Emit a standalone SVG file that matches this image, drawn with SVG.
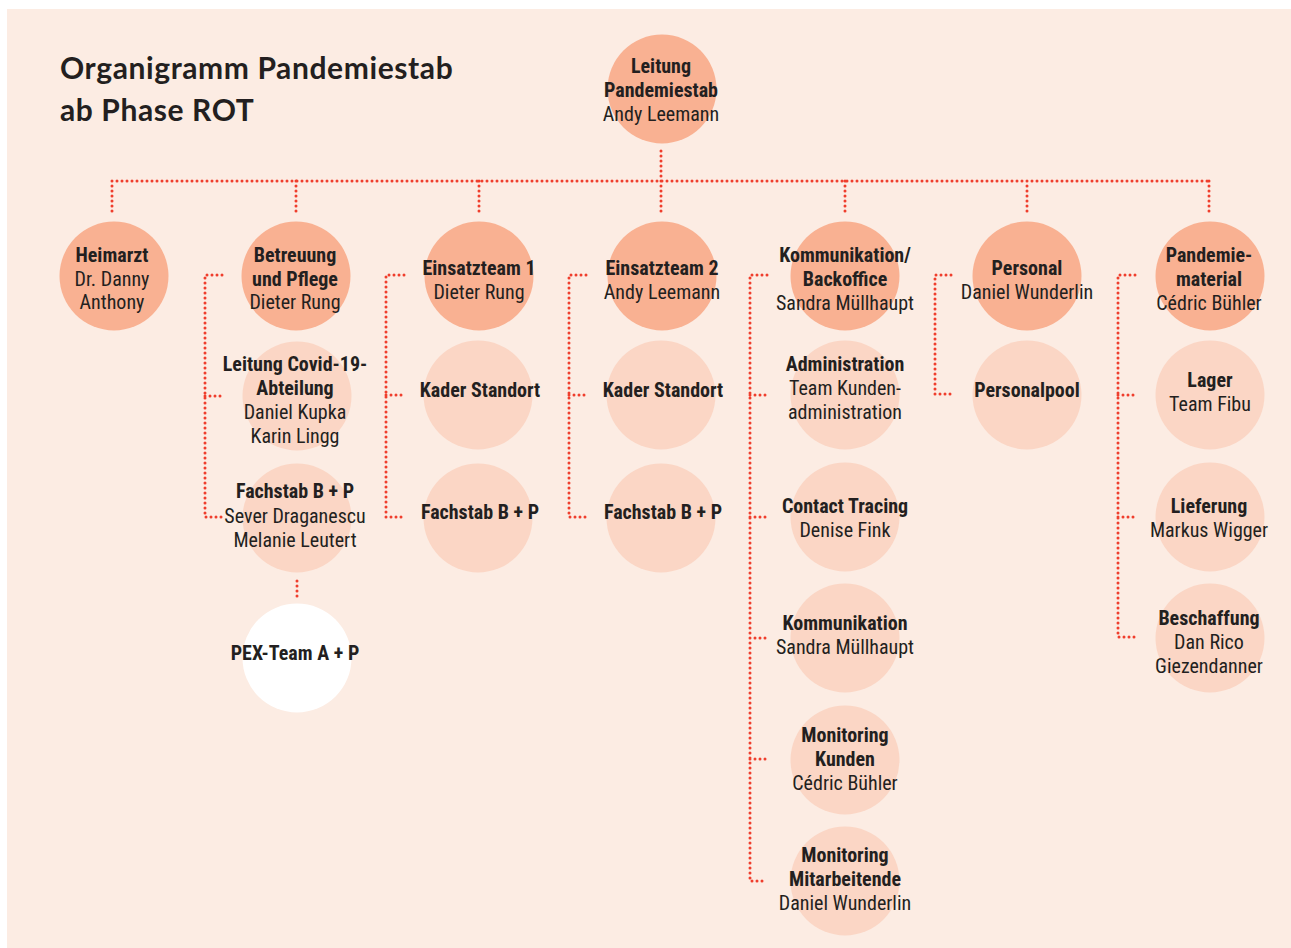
<svg xmlns="http://www.w3.org/2000/svg" width="1291" height="948" viewBox="0 0 1291 948">
<style>
.bg{fill:#FCECE3}
.c1{fill:#F9B192}
.c2{fill:#FBD6C5}
.c3{fill:#FFFFFF}
.ln{fill:none;stroke:#EF3E2C;stroke-width:3;stroke-linecap:round;stroke-dasharray:0 5}
text{font-family:"Liberation Sans Narrow","Roboto Condensed","Liberation Sans",sans-serif;font-size:20px;fill:#231F20;text-anchor:middle}
.b{font-weight:bold}
.title{font-family:Lato,"Open Sans",sans-serif;font-weight:bold;font-size:30px;letter-spacing:0.6px;text-anchor:start;fill:#231F20}
</style>
<rect x="0" y="0" width="1291" height="948" fill="#FFFFFF"/>
<rect class="bg" x="7" y="9" width="1284" height="939"/>
<g id="title">
<text class="title" x="60" y="79">Organigramm Pandemiestab</text>
<text class="title" x="60" y="121">ab Phase ROT</text>
</g>
<g id="connectors">
<path class="ln" d="M661 151V213M112 181H1209M112 181V213M296 181V213M479 181V213M661 181V213M845 181V213M1027 181V213M1209 181V213"/>
<path class="ln" d="M222 275H205V517H222M205 396H222"/>
<path class="ln" d="M297 581V597"/>
<path class="ln" d="M404 275H386V517H404M386 395H404"/>
<path class="ln" d="M586 275H569V517H586M569 395H586"/>
<path class="ln" d="M767 275H750V881H767M750 395H767M750 517H767M750 638H767M750 759H767"/>
<path class="ln" d="M951 275H935V394H951"/>
<path class="ln" d="M1135 275H1118V637H1135M1118 395H1135M1118 517H1135"/>
</g>
<g id="n-leitung"><circle class="c1" cx="662" cy="89" r="54.5"/><text class="b" x="661" y="73">Leitung</text><text class="b" x="661" y="97">Pandemiestab</text><text x="661" y="121">Andy Leemann</text></g>
<g id="n-heimarzt"><circle class="c1" cx="114" cy="276" r="54.5"/><text class="b" x="112" y="262">Heimarzt</text><text x="112" y="286">Dr. Danny</text><text x="112" y="309">Anthony</text></g>
<g id="n-betreuung"><circle class="c1" cx="296" cy="276" r="54.5"/><text class="b" x="295" y="262">Betreuung</text><text class="b" x="295" y="286">und Pflege</text><text x="295" y="309">Dieter Rung</text></g>
<g id="n-einsatz1"><circle class="c1" cx="479" cy="276" r="54.5"/><text class="b" x="479" y="275">Einsatzteam 1</text><text x="479" y="299">Dieter Rung</text></g>
<g id="n-einsatz2"><circle class="c1" cx="662" cy="276" r="54.5"/><text class="b" x="662" y="275">Einsatzteam 2</text><text x="662" y="299">Andy Leemann</text></g>
<g id="n-kommbo"><circle class="c1" cx="845" cy="276" r="54.5"/><text class="b" x="845" y="262">Kommunikation/</text><text class="b" x="845" y="286">Backoffice</text><text x="845" y="310">Sandra Müllhaupt</text></g>
<g id="n-personal"><circle class="c1" cx="1027" cy="276" r="54.5"/><text class="b" x="1027" y="275">Personal</text><text x="1027" y="299">Daniel Wunderlin</text></g>
<g id="n-pandmat"><circle class="c1" cx="1210" cy="276" r="54.5"/><text class="b" x="1209" y="262">Pandemie-</text><text class="b" x="1209" y="286">material</text><text x="1209" y="310">Cédric Bühler</text></g>
<g id="n-covid"><circle class="c2" cx="297" cy="396" r="54.5"/><text class="b" x="295" y="371">Leitung Covid-19-</text><text class="b" x="295" y="395">Abteilung</text><text x="295" y="419">Daniel Kupka</text><text x="295" y="443">Karin Lingg</text></g>
<g id="n-fachstab0"><circle class="c2" cx="297" cy="518" r="54.5"/><text class="b" x="295" y="498">Fachstab B + P</text><text x="295" y="523">Sever Draganescu</text><text x="295" y="547">Melanie Leutert</text></g>
<g id="n-pex"><circle class="c3" cx="297" cy="658" r="54.5"/><text class="b" x="295" y="660">PEX-Team A + P</text></g>
<g id="n-kader1"><circle class="c2" cx="478" cy="395" r="54.5"/><text class="b" x="480" y="397">Kader Standort</text></g>
<g id="n-fach1"><circle class="c2" cx="478" cy="518" r="54.5"/><text class="b" x="480" y="519">Fachstab B + P</text></g>
<g id="n-kader2"><circle class="c2" cx="661" cy="395" r="54.5"/><text class="b" x="663" y="397">Kader Standort</text></g>
<g id="n-fach2"><circle class="c2" cx="661" cy="518" r="54.5"/><text class="b" x="663" y="519">Fachstab B + P</text></g>
<g id="n-admin"><circle class="c2" cx="845" cy="395" r="54.5"/><text class="b" x="845" y="371">Administration</text><text x="845" y="395">Team Kunden-</text><text x="845" y="419">administration</text></g>
<g id="n-contact"><circle class="c2" cx="845" cy="517" r="54.5"/><text class="b" x="845" y="513">Contact Tracing</text><text x="845" y="537">Denise Fink</text></g>
<g id="n-komm"><circle class="c2" cx="845" cy="638" r="54.5"/><text class="b" x="845" y="630">Kommunikation</text><text x="845" y="654">Sandra Müllhaupt</text></g>
<g id="n-monk"><circle class="c2" cx="845" cy="760" r="54.5"/><text class="b" x="845" y="742">Monitoring</text><text class="b" x="845" y="766">Kunden</text><text x="845" y="790">Cédric Bühler</text></g>
<g id="n-monm"><circle class="c2" cx="845" cy="881" r="54.5"/><text class="b" x="845" y="862">Monitoring</text><text class="b" x="845" y="886">Mitarbeitende</text><text x="845" y="910">Daniel Wunderlin</text></g>
<g id="n-pool"><circle class="c2" cx="1027" cy="395" r="54.5"/><text class="b" x="1027" y="397">Personalpool</text></g>
<g id="n-lager"><circle class="c2" cx="1210" cy="395" r="54.5"/><text class="b" x="1210" y="387">Lager</text><text x="1210" y="411">Team Fibu</text></g>
<g id="n-lief"><circle class="c2" cx="1210" cy="517" r="54.5"/><text class="b" x="1209" y="513">Lieferung</text><text x="1209" y="537">Markus Wigger</text></g>
<g id="n-besch"><circle class="c2" cx="1210" cy="638" r="54.5"/><text class="b" x="1209" y="625">Beschaffung</text><text x="1209" y="649">Dan Rico</text><text x="1209" y="673">Giezendanner</text></g>
</svg>
